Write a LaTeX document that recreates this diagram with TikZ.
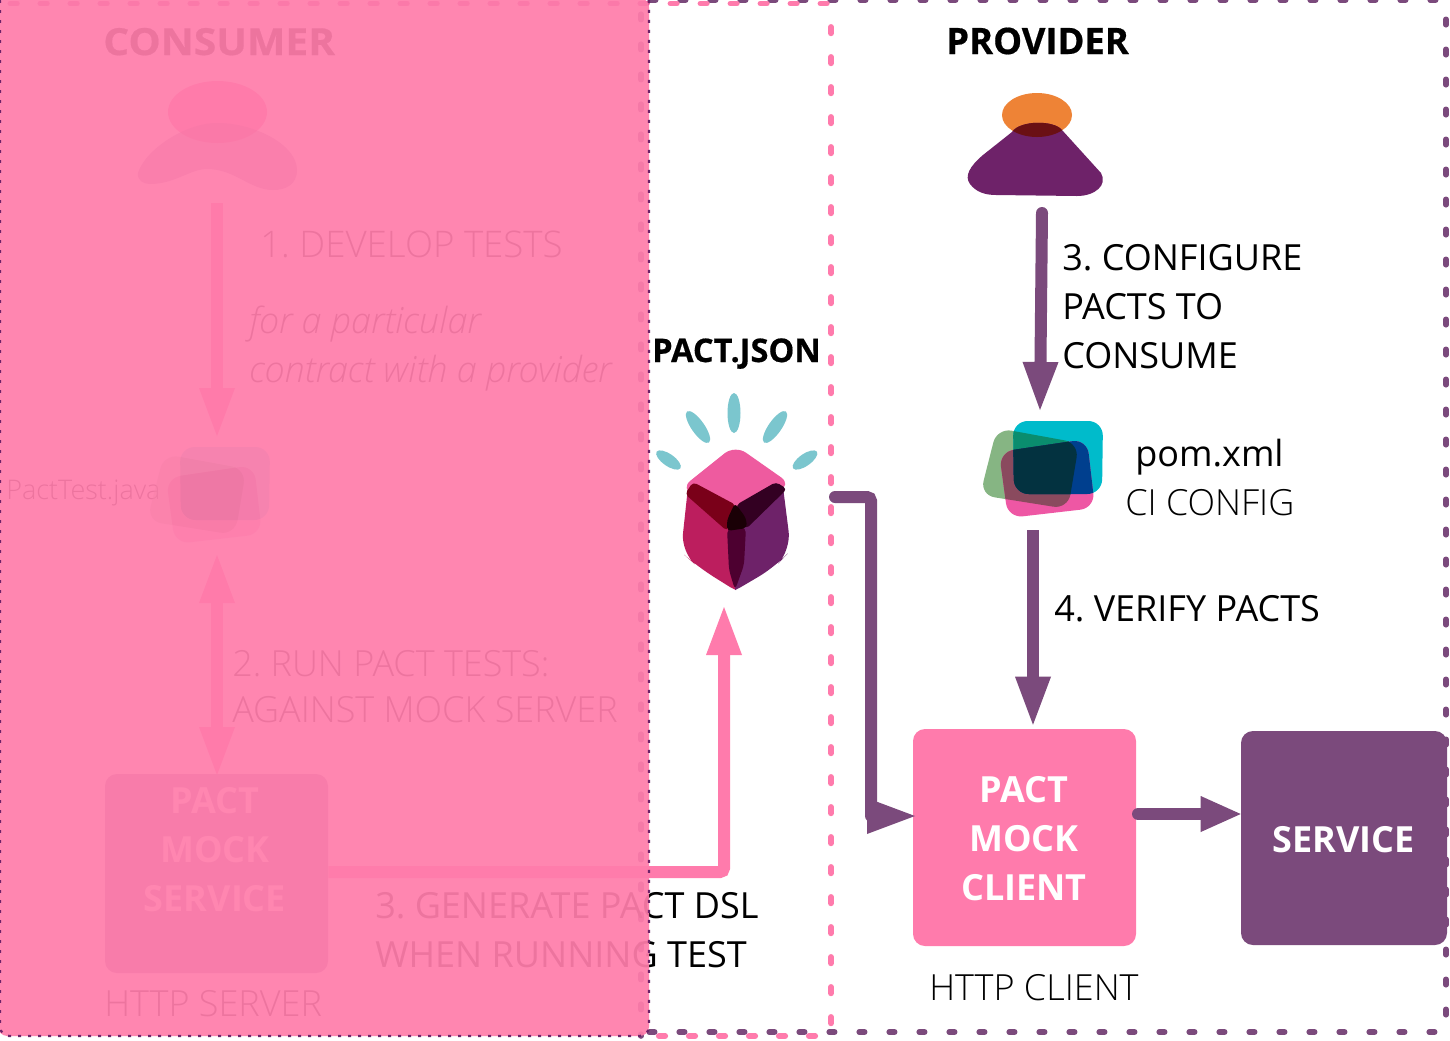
\documentclass[tikz,border=0pt]{standalone}
\usepackage{fontspec}
\setmainfont{Open Sans}
\newfontfamily\oslight{Open Sans Light}[ItalicFont={Open Sans Light Italic}]
\newfontfamily\osxb{Open Sans Bold}[FakeBold=0.5]
\usetikzlibrary{arrows.meta}
\definecolor{pactpink}{HTML}{FF7BAC}
\definecolor{underpink}{HTML}{FF64A0}
\definecolor{pactpurple}{HTML}{7B4A7C}
\definecolor{darkpurple}{HTML}{6E2269}
\definecolor{veilpink}{HTML}{FF7DAB}
\definecolor{raycol}{HTML}{7BC6CE}
\definecolor{pomgreen}{HTML}{86B583}
\definecolor{pomteal}{HTML}{00BBCB}
\definecolor{pompink}{HTML}{EE57A4}
\definecolor{pomgt}{HTML}{0A8D6E}
\definecolor{pomtp}{HTML}{003F8E}
\definecolor{pomgp}{HTML}{8A4A5E}
\definecolor{pomall}{HTML}{033240}
\definecolor{cubeleft}{HTML}{BC1E5E}
\definecolor{cubetop}{HTML}{EE5B9F}
\definecolor{armleft}{HTML}{7A0019}
\definecolor{armright}{HTML}{330022}
\definecolor{armdown}{HTML}{4D0030}
\definecolor{armcore}{HTML}{1A0006}
\definecolor{headorange}{HTML}{EE8336}
\definecolor{headoverlap}{HTML}{6A1014}
\newcommand{\greenquad}{(997,428) -- (1079,443) -- (1068,509) -- (980,495) -- cycle}
\newcommand{\tealquad}{(1013,421) -- (1103,421) -- (1102,494) -- (1014,494) -- cycle}
\newcommand{\pinkquad}{(999,452) -- (1087,439) -- (1095,508) -- (1008,518) -- cycle}
\newcommand{\pomicon}{%
  \fill[pomgreen,rounded corners=11pt] \greenquad;
  \fill[pomteal,rounded corners=11pt] \tealquad;
  \fill[pompink,rounded corners=11pt] \pinkquad;
  \begin{scope}\clip[rounded corners=11pt] \greenquad;
    \fill[pomgt,rounded corners=11pt] \tealquad;
    \fill[pomgp,rounded corners=11pt] \pinkquad;
    \clip[rounded corners=11pt] \tealquad;
    \fill[pomall,rounded corners=11pt] \pinkquad;
  \end{scope}
  \begin{scope}\clip[rounded corners=11pt] \tealquad;
    \begin{scope}\clip[rounded corners=11pt] \pinkquad;
      \fill[pomtp] (970,410) rectangle (1110,530);
      \fill[pomall,rounded corners=11pt] \greenquad;
    \end{scope}
  \end{scope}
}
\tikzset{
  lbl/.style={anchor=base west,inner sep=0pt,xshift=-0.75pt,font=\fontsize{27}{27}\selectfont\frenchspacing},
  lightlbl/.style={anchor=base west,inner sep=0pt,xshift=-0.75pt,font=\fontsize{27}{27}\selectfont\oslight\frenchspacing},
  headlbl/.style={anchor=base west,inner sep=0pt,xshift=-0.75pt,font=\fontsize{27.3}{27.3}\selectfont\osxb},
  boxlbl/.style={inner sep=0pt,align=center,text=white,font=\fontsize{27}{36.75}\selectfont\bfseries},
  boxnode/.style={rounded corners=9pt,inner sep=0pt},
  tipstyle/.style={-{Triangle[length=36pt,width=27pt,line width=0pt,fill=#1]}},
  purplearrow/.style={draw=pactpurple,line width=9pt,line cap=round,tipstyle=pactpurple},
  pinkarrow/.style={draw=pactpink,line width=9pt,rounded corners=3pt,tipstyle=pactpink},
  underarrow/.style={draw=underpink,line width=9pt,tipstyle=underpink},
  purpledash/.style={draw=pactpurple,line width=4.2pt,line cap=round,dash pattern=on 4.1pt off 18.4pt},
  pinkdash/.style={draw=pactpink,line width=4.4pt,line cap=round,dash pattern=on 4.7pt off 17.8pt},
}
\begin{document}
\begin{tikzpicture}[x=0.75pt,y=-0.75pt]
\useasboundingbox (0,0) rectangle (1450,1040);
\clip (0,0) rectangle (1450,1040);
\fill[white] (0,0) rectangle (1450,1040);

% dashed frames
\coordinate (otl) at (650.2,0); \coordinate (otr) at (1446,0);
\coordinate (obr) at (1446,1032); \coordinate (obl) at (649.2,1032);
\draw[purpledash] (otl) -- (otr);
\draw[purpledash] (1446,-10.7) -- (obr);
\draw[purpledash] (obl) -- (1442,1032);
\draw[purpledash] (641,14.2) -- (641,1036);
\coordinate (ptl) at (10.5,3.5); \coordinate (ptr) at (831,3.5);
\coordinate (prb) at (831,1036);
\draw[pinkdash] (ptl) -- (ptr);
\draw[pinkdash] (831,27) -- (prb);
\draw[pinkdash] (658.9,1036) -- (prb);
\draw[draw=underpink!70!darkpurple,line width=4.4pt,line cap=round,dash pattern=on 4.7pt off 17.8pt] (ptl) -- (649,3.5);

% consumer (under the veil)
\node[headlbl,font=\fontsize{28}{28}\selectfont\osxb,xscale=1.09,transform shape] (consumer) at (104,55) {CONSUMER};
\fill[underpink] (217.5,112) ellipse [x radius=49.5,y radius=31];
\newcommand{\consumerbody}{(138,173) .. controls (145,150) and (185,123) .. (217,123) .. controls (255,123) and (297,145) .. (297,170) .. controls (297,185) and (285,190) .. (273,190) .. controls (250,190) and (235,169) .. (207,169) .. controls (190,169) and (175,184) .. (150,184) .. controls (143,184) and (137,180) .. (138,173) -- cycle}
\fill[darkpurple,fill opacity=0.45] \consumerbody;
\coordinate (consumerfoot) at (217,203);
\node[lightlbl,font=\fontsize{27.5}{27.5}\selectfont\oslight\frenchspacing] (develop) at (261,257) {1. DEVELOP TESTS};
\node[lightlbl] (forone) at (250,333) {\itshape for a particular};
\node[lightlbl] (fortwo) at (250,382) {\itshape contract with a provider};
\node[lightlbl,font=\fontsize{20.25}{20.25}\selectfont\oslight] (pacttest) at (7,499) {PactTest.java};
\begin{scope}[shift={(-833,26)},fill opacity=0.45]
\pomicon
\end{scope}
\coordinate (testtop) at (217,436);
\draw[underarrow] (consumerfoot) -- (testtop);
\coordinate (dbltop) at (217,555); \coordinate (dblbot) at (217,775);
\draw[draw=underpink,line width=9pt,{Triangle[length=36pt,width=27pt,line width=0pt,fill=underpink]}-{Triangle[length=36pt,width=27pt,line width=0pt,fill=underpink]}] (dbltop) -- (dblbot);
\node[lightlbl] (runone) at (233,676) {2. RUN PACT TESTS:};
\node[lightlbl] (runtwo) at (233,722) {AGAINST MOCK SERVER};
\node[boxnode,fill=pactpurple!75!white,minimum width=167.25pt,minimum height=149.25pt] (mockservice) at (216.5,873.5) {};
\node[boxlbl] (mocklabel) at (215,850) {PACT\\MOCK\\SERVICE};
\node[lightlbl] (httpserver) at (105,1016) {HTTP SERVER};

% generate pact
\node[lbl] (genone) at (376,918) {3. GENERATE PACT DSL};
\node[lbl] (gentwo) at (376,967) {WHEN RUNNING TEST};
\coordinate (pactbottom) at (724,607);
\draw[pinkarrow] (mockservice.east |- 0,872) -| (pactbottom);

% veil
\fill[veilpink,fill opacity=0.93,rounded corners=7pt] (-2,-2) -- (649,-2) -- (649,1036) -- (-2,1036) -- cycle;
\draw[darkpurple,line width=1.7pt,dash pattern=on 2.2pt off 5.3pt,rounded corners=7pt] (0,0) -- (0,1036) -- (649,1036) -- (649,0);

% pact.json cube
\node[headlbl,font=\fontsize{24.4}{24.4}\selectfont\osxb] (pactjson) at (653,362) {PACT.JSON};
\fill[raycol] (734,413) ellipse [x radius=6.5,y radius=20];
\fill[raycol,shift={(698,427)},rotate=35] (0,0) ellipse [x radius=6.5,y radius=19];
\fill[raycol,shift={(775,427)},rotate=-35] (0,0) ellipse [x radius=6.5,y radius=19];
\fill[raycol,shift={(668.5,460)},rotate=55] (0,0) ellipse [x radius=6,y radius=14.5];
\fill[raycol,shift={(805,460)},rotate=-55] (0,0) ellipse [x radius=6,y radius=14.5];
\fill[cubeleft] (688,487) -- (736,507) -- (736,590) -- (730,587) [rounded corners=14pt] -- (698,567) -- (681,552) [sharp corners] -- cycle;
\fill[darkpurple] (783,487) -- (735,507) -- (735,590) -- (741,587) [rounded corners=14pt] -- (775,567) -- (791,550) [sharp corners] -- cycle;
\fill[cubetop,rounded corners=10pt] (735,445) -- (680,489) -- (735,510) -- (792,485) -- cycle;
\fill[armleft,rounded corners=3pt] (685,494) -- (693,482) -- (736,505) -- (727,531) -- cycle;
\fill[armright,rounded corners=3pt] (787,489) -- (776,482) -- (736,505) -- (746,529) -- cycle;
\fill[armdown,rounded corners=4pt] (727,528) -- (746,527) -- (744,565) -- (735,590) -- (729,570) -- cycle;
\fill[armcore,rounded corners=3pt] (735,503) -- (746,518) -- (747,528) -- (727,531) -- (727,520) -- cycle;

% provider
\node[headlbl] (provider) at (947,54) {PROVIDER};
\fill[headorange] (1037,115) ellipse [x radius=35,y radius=22];
\newcommand{\providerbody}{(1012,132) .. controls (1020,120) and (1054,120) .. (1062,130) -- (1101,173) .. controls (1108,185) and (1095,196) .. (1077,196) -- (996,195) .. controls (985,195) and (976,192) .. (970,184) .. controls (964,176) and (970,166) .. (983,155) -- cycle}
\fill[darkpurple] \providerbody;
\begin{scope}
\clip \providerbody;
\fill[headoverlap] (1037,115) ellipse [x radius=35,y radius=22];
\end{scope}
\coordinate (providerfoot) at (1042,213);
\coordinate (pomtop) at (1040,410);
\draw[purplearrow] (providerfoot) -- (pomtop);
\node[lbl] (cfgone) at (1063,270) {3. CONFIGURE};
\node[lbl] (cfgtwo) at (1063,319) {PACTS TO};
\node[lbl] (cfgthree) at (1063,368) {CONSUME};
\pomicon
\node[lbl] (pomxml) at (1136,466) {pom.xml};
\node[lightlbl] (ciconfig) at (1126,515) {CI CONFIG};
\coordinate (pomfoot) at (1033,530);
\node[lbl] (verify) at (1055,621) {4. VERIFY PACTS};

% client and service
\node[boxnode,fill=pactpink,minimum width=167.25pt,minimum height=162.75pt] (client) at (1024.5,837.5) {};
\node[boxlbl] (clientlabel) at (1024,839) {PACT\\MOCK\\CLIENT};
\node[boxnode,fill=pactpurple,minimum width=154.5pt,minimum height=160.5pt] (service) at (1344,838) {};
\node[boxlbl] (servicelabel) at (1343.5,840) {SERVICE};
\node[lightlbl] (httpclient) at (930,1000) {HTTP CLIENT};
\draw[purplearrow,line cap=butt] (pomfoot) -- ([xshift=6.375pt,yshift=3pt]client.north);
\coordinate (jsonout) at (835,497);
\coordinate (clientin) at (915,816);
\draw[draw=pactpurple,line width=9pt,line cap=round,rounded corners=3pt] (jsonout) -- (871,497) -- (871,816);
\draw[purplearrow,line cap=butt] (871,816) -- (clientin);
\draw[draw=pactpurple,line width=9pt,line cap=round,-{Triangle[length=30pt,width=27pt,line width=0pt,fill=pactpurple]}] (1138,814) -- (service.west |- 0,814);
\end{tikzpicture}
\end{document}
